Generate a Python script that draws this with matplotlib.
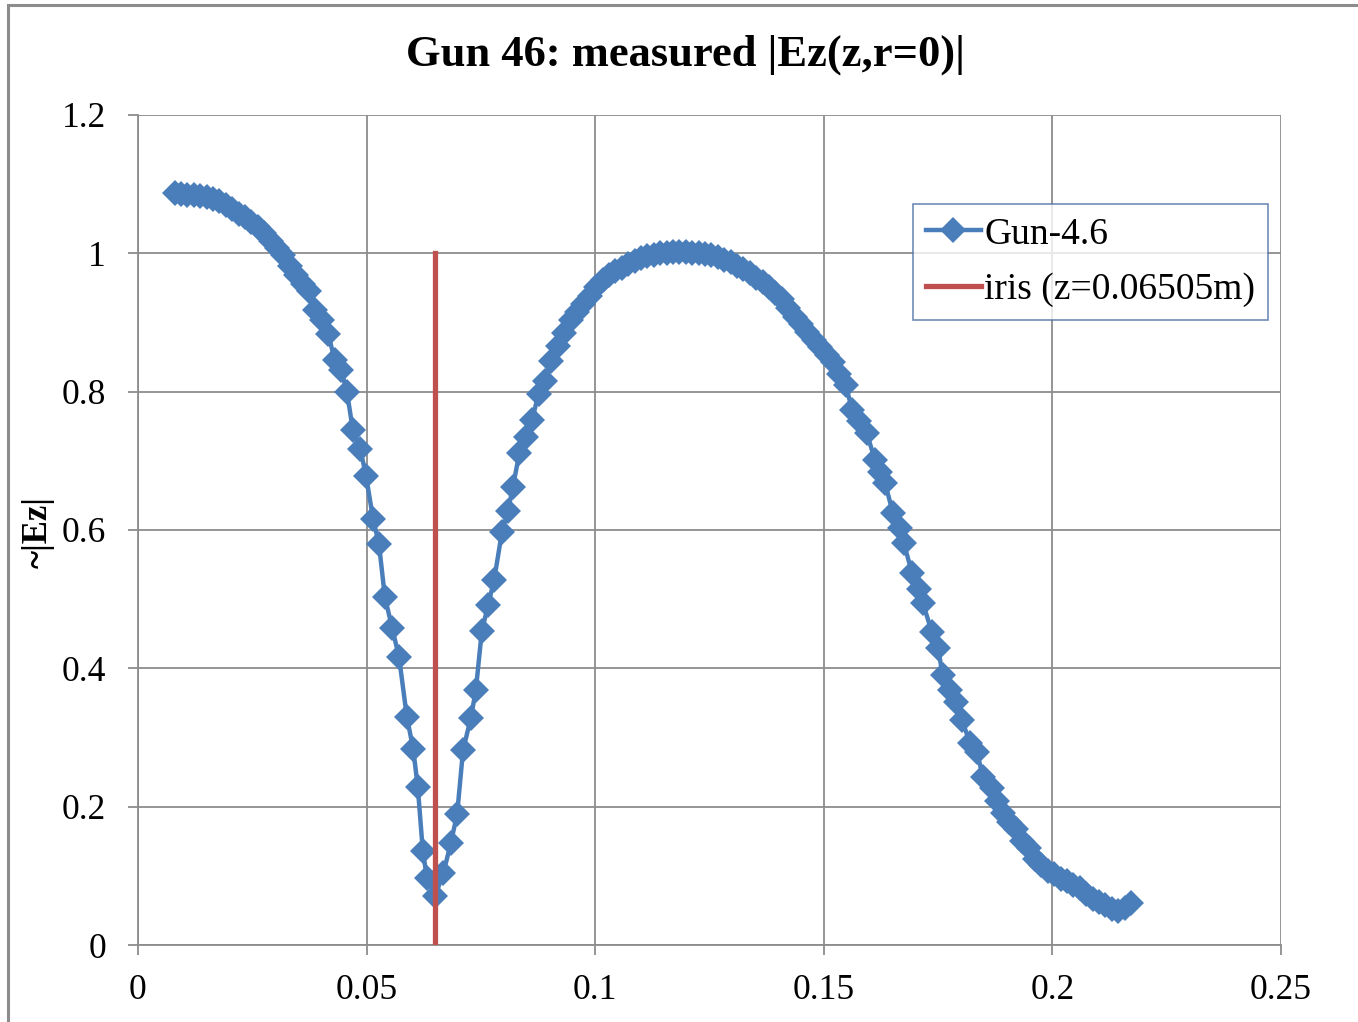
import matplotlib
matplotlib.use('Agg')
import matplotlib.pyplot as plt
from matplotlib.ticker import FuncFormatter, MultipleLocator
from matplotlib.patches import Rectangle

# measured |Ez| on axis
z = [0.0080, 0.0094, 0.0108, 0.0122, 0.0136, 0.0150, 0.0164, 0.0178, 0.0192, 0.0206,
     0.0220, 0.0234, 0.0248, 0.0262, 0.0276, 0.0290, 0.0304, 0.0318, 0.0332, 0.0346,
     0.0360, 0.0374, 0.0388, 0.0402, 0.0416, 0.0430, 0.0444, 0.0457, 0.0470, 0.0486,
     0.0499, 0.0514, 0.0527, 0.0540, 0.0556, 0.0571, 0.0588, 0.0602, 0.0612, 0.0623,
     0.0632, 0.0650, 0.0668, 0.0684, 0.0698, 0.0711, 0.0728, 0.0739, 0.0752, 0.0766,
     0.0779, 0.0796, 0.0809, 0.0820, 0.0834, 0.0848, 0.0862, 0.0876, 0.0890, 0.0904,
     0.0918, 0.0932, 0.0946, 0.0960, 0.0974, 0.0988, 0.1002, 0.1016, 0.1030, 0.1044,
     0.1058, 0.1072, 0.1086, 0.1100, 0.1114, 0.1128, 0.1142, 0.1156, 0.1170, 0.1184,
     0.1198, 0.1212, 0.1226, 0.1240, 0.1254, 0.1268, 0.1282, 0.1296, 0.1310, 0.1324,
     0.1338, 0.1352, 0.1366, 0.1380, 0.1394, 0.1408, 0.1422, 0.1436, 0.1450, 0.1464,
     0.1478, 0.1492, 0.1506, 0.1520, 0.1534, 0.1548, 0.1562, 0.1578, 0.1594, 0.1612,
     0.1624, 0.1634, 0.1651, 0.1667, 0.1675, 0.1693, 0.1708, 0.1717, 0.1736, 0.1750,
     0.1760, 0.1776, 0.1790, 0.1802, 0.1820, 0.1835, 0.1848, 0.1868, 0.1878, 0.1892,
     0.1906, 0.1920, 0.1934, 0.1948, 0.1962, 0.1976, 0.1990, 0.2004, 0.2018, 0.2032,
     0.2046, 0.2060, 0.2074, 0.2088, 0.2102, 0.2116, 0.2130, 0.2144, 0.2158, 0.2172]
ez = [1.087, 1.086, 1.085, 1.084, 1.083, 1.081, 1.079, 1.075, 1.070, 1.064,
      1.057, 1.052, 1.046, 1.038, 1.030, 1.018, 1.008, 0.998, 0.982, 0.968,
      0.955, 0.945, 0.918, 0.903, 0.884, 0.846, 0.832, 0.800, 0.744, 0.717,
      0.678, 0.616, 0.580, 0.503, 0.458, 0.416, 0.330, 0.283, 0.228, 0.136,
      0.097, 0.071, 0.104, 0.147, 0.189, 0.282, 0.328, 0.369, 0.454, 0.492,
      0.528, 0.597, 0.627, 0.662, 0.711, 0.735, 0.759, 0.797, 0.815, 0.845,
      0.866, 0.885, 0.904, 0.915, 0.927, 0.938, 0.951, 0.962, 0.968, 0.974,
      0.979, 0.985, 0.989, 0.993, 0.996, 0.998, 1.000, 1.001, 1.002, 1.002,
      1.002, 1.001, 1.000, 0.999, 0.997, 0.994, 0.991, 0.987, 0.982, 0.978,
      0.972, 0.965, 0.958, 0.951, 0.943, 0.934, 0.921, 0.908, 0.898, 0.886,
      0.875, 0.865, 0.853, 0.843, 0.826, 0.810, 0.773, 0.757, 0.740, 0.701,
      0.684, 0.668, 0.625, 0.603, 0.581, 0.538, 0.515, 0.494, 0.453, 0.429,
      0.390, 0.369, 0.351, 0.325, 0.292, 0.279, 0.243, 0.227, 0.208, 0.191,
      0.178, 0.167, 0.150, 0.140, 0.125, 0.115, 0.107, 0.102, 0.096, 0.093,
      0.087, 0.082, 0.074, 0.066, 0.062, 0.058, 0.052, 0.049, 0.054, 0.061]

iris_z = 0.06505
iris_top = 1.0

plt.rcParams['font.family'] = ['Liberation Serif', 'DejaVu Serif']

fig = plt.figure(figsize=(13.58, 10.22), dpi=100)
fig.patches.append(Rectangle((8 / 1358, -0.1), 1.2, 1.1 - 5 / 1022, transform=fig.transFigure,
                             fill=False, edgecolor='#8c8c8c', linewidth=2.2))
ax = fig.add_axes([138 / 1358, 77 / 1022, 1143 / 1358, 830 / 1022])

ax.plot(z, ez, color='#4A7EBB', linewidth=3.2, marker='D', markersize=13.5,
        markeredgewidth=0, label='Gun-4.6', zorder=3)
ax.plot([iris_z, iris_z], [0, iris_top], color='#C0504D', linewidth=3.8,
        label='iris (z=0.06505m)', zorder=4)

ax.set_xlim(0, 0.25)
ax.set_ylim(0, 1.2)
ax.xaxis.set_major_locator(MultipleLocator(0.05))
ax.yaxis.set_major_locator(MultipleLocator(0.2))
fmt = FuncFormatter(lambda v, p: '%g' % round(v, 4))
ax.xaxis.set_major_formatter(fmt)
ax.yaxis.set_major_formatter(fmt)

ax.grid(True, color='#8c8c8c', linewidth=1.3)
ax.set_axisbelow(True)
for s in ['top', 'right']:
    ax.spines[s].set_visible(False)
for s in ['left', 'bottom']:
    ax.spines[s].set_color('#8c8c8c')
    ax.spines[s].set_linewidth(1.3)
ax.tick_params(axis='both', direction='out', length=7, width=1.3, color='#8c8c8c',
               labelsize=25.5)
ax.tick_params(axis='y', pad=16)
ax.tick_params(axis='x', pad=14)

fig.text(686 / 1358, 1 - 55 / 1022, 'Gun 46: measured |Ez(z,r=0)|', fontsize=32,
         fontweight='bold', ha='center', va='center')
fig.text(38 / 1358, 1 - 532 / 1022, '~|Ez|', rotation=90, fontsize=25,
         fontweight='bold', ha='center', va='center')

leg = ax.legend(loc='upper left', bbox_to_anchor=((913 - 138) / 1143, (945 - 204) / 830),
                fontsize=27, frameon=True, fancybox=False, handlelength=1.45,
                handletextpad=0.1, borderpad=0.35, labelspacing=0.55,
                borderaxespad=0)
leg.get_frame().set_edgecolor('#4a6fa5')
leg.get_frame().set_linewidth(1.2)

fig.savefig('out.png', dpi=100)
